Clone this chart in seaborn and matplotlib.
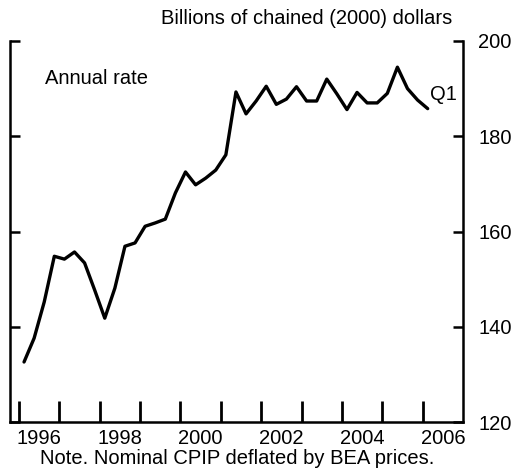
import matplotlib
matplotlib.use("Agg")
import matplotlib.pyplot as plt
import numpy as np
import pandas as pd
import seaborn as sns

# quarterly, 1996Q1 - 2006Q1, billions of chained (2000) dollars
quarters = pd.period_range("1996Q1", "2006Q1", freq="Q")
values = [132.6, 137.6, 145.2, 154.8, 154.2, 155.7, 153.4, 147.7,
          141.8, 148.1, 156.9, 157.6, 161.1, 161.8, 162.6, 168.1,
          172.5, 169.8, 171.2, 172.9, 176.1, 189.3, 184.7, 187.4,
          190.5, 186.7, 187.8, 190.4, 187.4, 187.4, 192.0, 188.9,
          185.6, 189.2, 187.0, 187.0, 189.0, 194.5, 190.0, 187.6,
          185.8]
year_ticks = list(range(1996, 2007))
year_labels = ["1996", "1998", "2000", "2002", "2004", "2006"]
y_ticks = [120, 140, 160, 180, 200]

df = pd.DataFrame({"t": quarters.year + (quarters.quarter - 0.5) / 4,
                   "v": values})

sns.set_style("ticks")
plt.rcParams["font.family"] = ["Liberation Sans", "DejaVu Sans"]
plt.rcParams["font.size"] = 14.5
plt.rcParams["text.color"] = "black"

fs = 14.5
fig = plt.figure(figsize=(5.14, 4.72), dpi=100)
ax = fig.add_axes([10/514, 1-422/472, 453/514, 381/472])

sns.lineplot(data=df, x="t", y="v", color="black", linewidth=2.4, ax=ax)

ax.set_xlim(1996 - 9/40.4, 2007)
ax.set_ylim(120, 200)
ax.set_xlabel("")
ax.set_ylabel("")

ax.set_xticks(year_ticks)
ax.set_xticklabels([])
ax.set_xticks([int(y) + 0.5 for y in year_labels], minor=True)
ax.set_xticklabels(year_labels, minor=True)
ax.tick_params(axis="x", which="major", direction="in", length=15, width=2, color="black")
ax.tick_params(axis="x", which="minor", length=0, pad=5, labelsize=fs, colors="black")

ax.set_yticks(y_ticks)
ax.yaxis.set_ticks_position("both")
ax.tick_params(axis="y", direction="in", length=7, width=1.8, labelleft=False,
               labelright=True, pad=11, labelsize=fs, colors="black")

ax.spines["top"].set_visible(False)
for s in ["left", "right", "bottom"]:
    ax.spines[s].set_linewidth(1.8)
    ax.spines[s].set_color("black")

fig.text(452/514, 1-18/472, "Billions of chained (2000) dollars", ha="right", va="center", fontsize=fs)
fig.text(45/514, 1-78/472, "Annual rate", ha="left", va="center", fontsize=fs)
fig.text(430/514, 1-95/472, "Q1", ha="left", va="center", fontsize=fs)
fig.text(237/514, 1-458/472, "Note. Nominal CPIP deflated by BEA prices.", ha="center", va="center", fontsize=fs)

fig.savefig("out.png", dpi=100)
